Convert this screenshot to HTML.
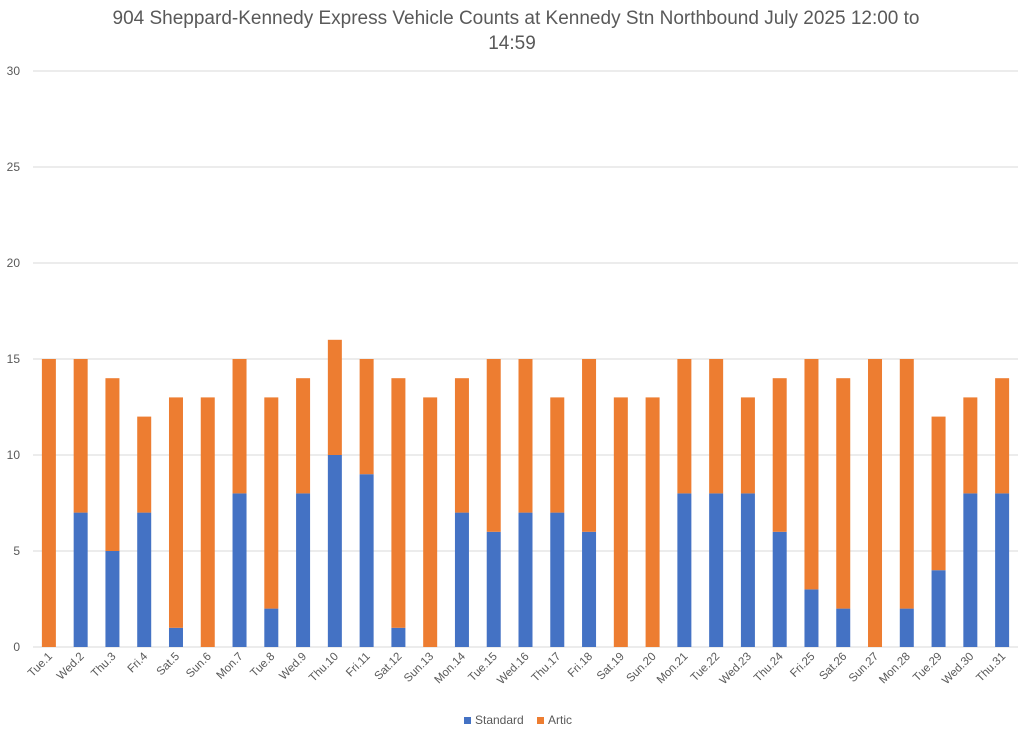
<!DOCTYPE html>
<html><head><meta charset="utf-8"><style>
body{margin:0;background:#fff;font-family:"Liberation Sans",sans-serif;}
</style></head><body>
<svg id="chart" width="1024" height="734" xmlns="http://www.w3.org/2000/svg">
<text x="512" y="24" text-anchor="middle" font-size="19" fill="#595959" font-family="Liberation Sans, sans-serif"><tspan x="516" y="24">904 Sheppard-Kennedy Express Vehicle Counts at Kennedy Stn Northbound July 2025  12:00 to</tspan><tspan x="512" y="49">14:59</tspan></text>
<g id="grid"></g><g id="bars"></g><g id="xlabels"></g>
<g>
<rect x="464" y="717" width="7" height="7" fill="#4472c4"/>
<text x="475" y="724" font-size="12" fill="#595959">Standard</text>
<rect x="537" y="717" width="7" height="7" fill="#ed7d31"/>
<text x="548" y="724" font-size="12" fill="#595959">Artic</text>
</g>
</svg>
<script>
const categories=["Tue.1","Wed.2","Thu.3","Fri.4","Sat.5","Sun.6","Mon.7","Tue.8","Wed.9","Thu.10","Fri.11","Sat.12","Sun.13","Mon.14","Tue.15","Wed.16","Thu.17","Fri.18","Sat.19","Sun.20","Mon.21","Tue.22","Wed.23","Thu.24","Fri.25","Sat.26","Sun.27","Mon.28","Tue.29","Wed.30","Thu.31"];
const standard=[0,7,5,7,1,0,8,2,8,10,9,1,0,7,6,7,7,6,0,0,8,8,8,6,3,2,0,2,4,8,8];
const artic=[15,8,9,5,12,13,7,11,6,6,6,13,13,7,9,8,6,9,13,13,7,7,5,8,12,12,15,13,8,5,6];
const yTicks=[0,5,10,15,20,25,30];
const NS="http://www.w3.org/2000/svg";
const x0=33,x1=1018,y0=647,yTop=71,yMax=30;
const step=(x1-x0)/categories.length, bw=14;
const yS=v=>y0-(v/yMax)*(y0-yTop);
const xC=i=>x0+step*(i+0.5);
function mk(t,a){const e=document.createElementNS(NS,t);for(const k in a)e.setAttribute(k,a[k]);return e;}
const grid=document.getElementById('grid');
yTicks.forEach(v=>{
 const l=mk('line',{x1:x0,x2:x1,y1:yS(v),y2:yS(v),stroke:'#d9d9d9','stroke-width':1});
 
 
 grid.appendChild(l);
 const t=mk('text',{x:20,y:yS(v)+4,'text-anchor':'end','font-size':12,fill:'#595959'});
 t.textContent=v;
 
 
 grid.appendChild(t);
});
const bars=document.getElementById('bars'),xl=document.getElementById('xlabels');
categories.forEach((c,i)=>{
 const s=standard[i],a=artic[i],x=xC(i)-bw/2;
 const r1=mk('rect',{x:x,y:yS(s),width:bw,height:y0-yS(s),fill:'#4472c4'});
 
 
 bars.appendChild(r1);
 const r2=mk('rect',{x:x,y:yS(s+a),width:bw,height:yS(s)-yS(s+a),fill:'#ed7d31'});
 
 
 bars.appendChild(r2);
 const tx=xC(i)+4,ty=y0+10;
 const t=mk('text',{x:tx,y:ty,'text-anchor':'end','font-size':11.5,fill:'#595959',transform:`rotate(-45 ${tx} ${ty})`});
 t.textContent=c;
 
 
 xl.appendChild(t);
});
</script>
</body></html>
